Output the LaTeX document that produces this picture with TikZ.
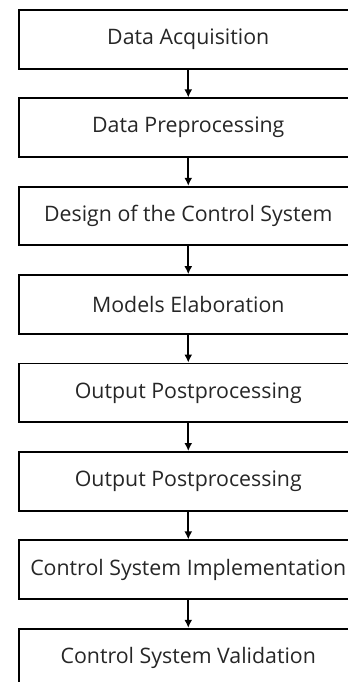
\documentclass[tikz,border=0pt]{standalone}
\usepackage{fontspec}
\setmainfont{Open Sans}
\usetikzlibrary{positioning,arrows.meta}
\begin{document}
\begin{tikzpicture}[>={Latex[length=6pt,width=6pt]},thick,x=0.75pt,y=0.75pt,
  stage/.style={draw,line width=1.4pt,minimum width=254pt,minimum height=44pt,
    inner sep=0pt,text=black!85,font=\fontsize{16}{19}\selectfont},
  flow/.style={->,line width=1.2pt},
  node distance=20.9pt]
\useasboundingbox (0,0) rectangle (348,-682);
\clip (0,0) rectangle (348,-682);
\node[stage,anchor=north west] (acq) at (18,-9) {Data Acquisition};
\node[stage,below=of acq] (prep) {Data Preprocessing};
\node[stage,below=of prep] (design) {Design of the Control System};
\node[stage,below=of design] (models) {Models Elaboration};
\node[stage,below=of models] (post) {Output Postprocessing};
\node[stage,below=of post] (posttwo) {Output Postprocessing};
\node[stage,below=of posttwo] (impl) {Control System Implementation};
\node[stage,below=of impl] (valid) {Control System Validation};
\draw[flow] (acq) -- (prep);
\draw[flow] (prep) -- (design);
\draw[flow] (design) -- (models);
\draw[flow] (models) -- (post);
\draw[flow] (post) -- (posttwo);
\draw[flow] (posttwo) -- (impl);
\draw[flow] (impl) -- (valid);
\end{tikzpicture}
\end{document}
